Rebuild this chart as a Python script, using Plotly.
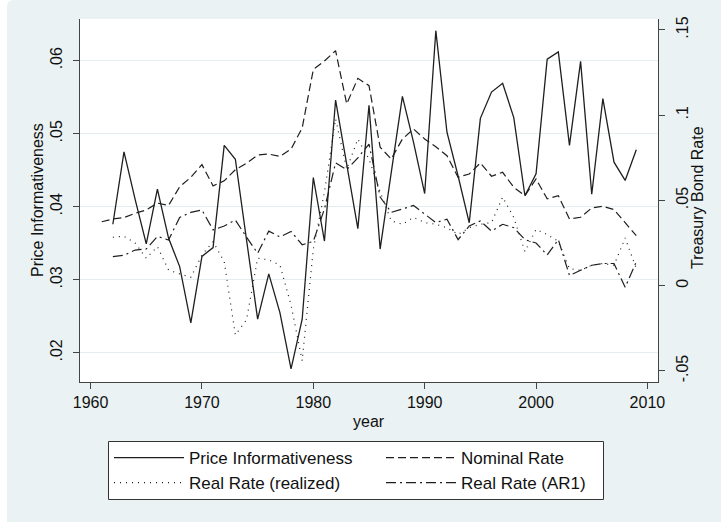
import plotly.graph_objects as go

years_pi = list(range(1962, 2010))
price_info = [0.0376, 0.0475, 0.0410, 0.0349, 0.0424, 0.0357, 0.0318, 0.0241, 0.0332, 0.0344,
              0.0484, 0.0465, 0.0355, 0.0246, 0.0308, 0.0255, 0.0178, 0.0246, 0.0440, 0.0353,
              0.0546, 0.0460, 0.0370, 0.0539, 0.0342, 0.0447, 0.0551, 0.0488, 0.0418, 0.0641,
              0.0502, 0.0442, 0.0378, 0.0521, 0.0557, 0.0569, 0.0522, 0.0415, 0.0445, 0.0602,
              0.0612, 0.0484, 0.0599, 0.0417, 0.0548, 0.0461, 0.0436, 0.0478]

years_nom = list(range(1961, 2010))
nominal_rate = [0.0375, 0.0391, 0.0399, 0.0425, 0.0444, 0.0484, 0.0470, 0.0580, 0.0635, 0.0710,
                0.0585, 0.0615, 0.0680, 0.0718, 0.0766, 0.0772, 0.0758, 0.0801, 0.0925, 0.1268,
                0.1318, 0.1378, 0.1066, 0.1216, 0.1173, 0.0812, 0.0743, 0.0860, 0.0919, 0.0860,
                0.0815, 0.0762, 0.0636, 0.0655, 0.0720, 0.0642, 0.0665, 0.0577, 0.0528, 0.0626,
                0.0509, 0.0528, 0.0391, 0.0401, 0.0456, 0.0466, 0.0446, 0.0372, 0.0293]

years_real = list(range(1962, 2010))
real_realized = [0.0284, 0.0290, 0.0250, 0.0161, 0.0229, 0.0092, 0.0069, 0.0049, 0.0180, 0.0258,
                 0.0141, -0.0289, -0.0201, 0.0161, 0.0151, 0.0121, -0.0113, -0.0440, 0.0215, 0.0548,
                 0.0978, 0.0684, 0.0860, 0.0743, 0.0550, 0.0380, 0.0360, 0.0400, 0.0370, 0.0360,
                 0.0340, 0.0300, 0.0340, 0.0360, 0.0370, 0.0520, 0.0400, 0.0200, 0.0330, 0.0300,
                 0.0260, 0.0100, 0.0090, 0.0120, 0.0130, 0.0120, 0.0280, 0.0100]

real_ar1 = [0.0170, 0.0178, 0.0209, 0.0215, 0.0289, 0.0268, 0.0400, 0.0430, 0.0444, 0.0327,
            0.0350, 0.0385, 0.0285, 0.0190, 0.0320, 0.0286, 0.0318, 0.0240, 0.0260, 0.0450,
            0.0720, 0.0680, 0.0750, 0.0830, 0.0520, 0.0430, 0.0450, 0.0470, 0.0420, 0.0370,
            0.0390, 0.0270, 0.0350, 0.0380, 0.0320, 0.0360, 0.0340, 0.0270, 0.0250, 0.0180,
            0.0270, 0.0060, 0.0090, 0.0120, 0.0130, 0.0130, -0.0010, 0.0140]

left_ticks = [0.02, 0.03, 0.04, 0.05, 0.06]
left_ticktext = [".02", ".03", ".04", ".05", ".06"]
right_ticks = [-0.05, 0, 0.05, 0.1, 0.15]
right_ticktext = ["-.05", "0", ".05", ".1", ".15"]
x_ticks = [1960, 1970, 1980, 1990, 2000, 2010]

FONT = "Liberation Sans, Arial, sans-serif"
INK = "#1f1f1f"
AXC = "#444"
BG = "#EAF2F3"

# plot area in pixels: x 80..658, y 19..382
W, H = 721, 522
L, R, T, B = 80, 63, 19, 140
PW, PH = W - L - R, H - T - B


def px(x):
    return (x - L) / PW


def py(y):
    return (H - B - y) / PH


fig = go.Figure()
fig.add_trace(go.Scatter(x=years_pi, y=price_info, mode="lines", name="Price Informativeness",
                         line=dict(color=INK, width=1.3), yaxis="y"))
fig.add_trace(go.Scatter(x=years_nom, y=nominal_rate, mode="lines", name="Nominal Rate",
                         line=dict(color=INK, width=1.2, dash="8px,4px"), yaxis="y2"))
fig.add_trace(go.Scatter(x=years_real, y=real_realized, mode="lines", name="Real Rate (realized)",
                         line=dict(color=INK, width=1.2, dash="1px,5px"), yaxis="y2"))
fig.add_trace(go.Scatter(x=years_real, y=real_ar1, mode="lines", name="Real Rate (AR1)",
                         line=dict(color=INK, width=1.2, dash="10px,4px,2px,4px"), yaxis="y2"))

shapes = [
    dict(type="rect", xref="paper", yref="paper", x0=px(-2), x1=px(7), y0=py(H + 2), y1=py(-2),
         fillcolor="white", line=dict(width=0), layer="below"),
    dict(type="path", xref="paper", yref="paper",
         path=f"M {px(7)},{py(0)} L {px(14)},{py(0)} Q {px(7)},{py(0)} {px(7)},{py(7)} Z",
         fillcolor="white", line=dict(width=0), layer="below"),
    # legend frame
    dict(type="rect", xref="paper", yref="paper", x0=px(108.5), x1=px(603.5), y0=py(499.5), y1=py(441.5),
         fillcolor="white", line=dict(width=1, color="#333"), layer="below"),
]

annotations = [
    dict(text="Price Informativeness", x=px(37), y=py(200), xref="paper", yref="paper",
         textangle=-90, showarrow=False, xanchor="center", yanchor="middle",
         font=dict(family=FONT, size=16, color="#111")),
    dict(text="Treasury Bond Rate", x=px(697), y=py(198), xref="paper", yref="paper",
         textangle=-90, showarrow=False, xanchor="center", yanchor="middle",
         font=dict(family=FONT, size=16, color="#111")),
    dict(text="year", x=px(369), y=py(421), xref="paper", yref="paper",
         showarrow=False, xanchor="center", yanchor="middle",
         font=dict(family=FONT, size=16, color="#111")),
]

fig.update_layout(
    template="none",
    width=W, height=H,
    margin=dict(l=L, r=R, t=T, b=B, autoexpand=False),
    paper_bgcolor=BG,
    plot_bgcolor="white",
    font=dict(family=FONT, size=16, color="#111"),
    showlegend=True,
    legend=dict(orientation="h", x=px(109), y=py(440), xanchor="left", yanchor="top",
                bgcolor="rgba(0,0,0,0)", borderwidth=0,
                entrywidth=187, entrywidthmode="pixels", itemwidth=70,
                font=dict(family=FONT, size=17, color="#111"), traceorder="normal"),
    xaxis=dict(range=[1959.05, 2010.95], tickvals=x_ticks, ticks="outside", ticklen=6,
               tickcolor=AXC, showline=True, linecolor=AXC, linewidth=1, automargin=False,
               showgrid=False, zeroline=False),
    yaxis=dict(range=[0.016, 0.0657], tickvals=left_ticks, ticktext=left_ticktext,
               tickangle=-90, ticks="outside", ticklen=6, tickcolor=AXC, automargin=False,
               ticklabelstandoff=5,
               showline=True, linecolor=AXC, linewidth=1,
               showgrid=True, gridcolor="#E4EDEF", gridwidth=1, zeroline=False),
    yaxis2=dict(range=[-0.0565, 0.1564], tickvals=right_ticks, ticktext=right_ticktext,
                tickangle=-90, ticks="outside", ticklen=6, tickcolor=AXC, automargin=False,
                ticklabelstandoff=4,
                showline=True, linecolor=AXC, linewidth=1, overlaying="y", side="right",
                showgrid=False, zeroline=False),
    shapes=shapes,
    annotations=annotations,
)

fig.write_html("out.html", config={"displayModeBar": False},
               post_script="document.body.style.margin='0';")
